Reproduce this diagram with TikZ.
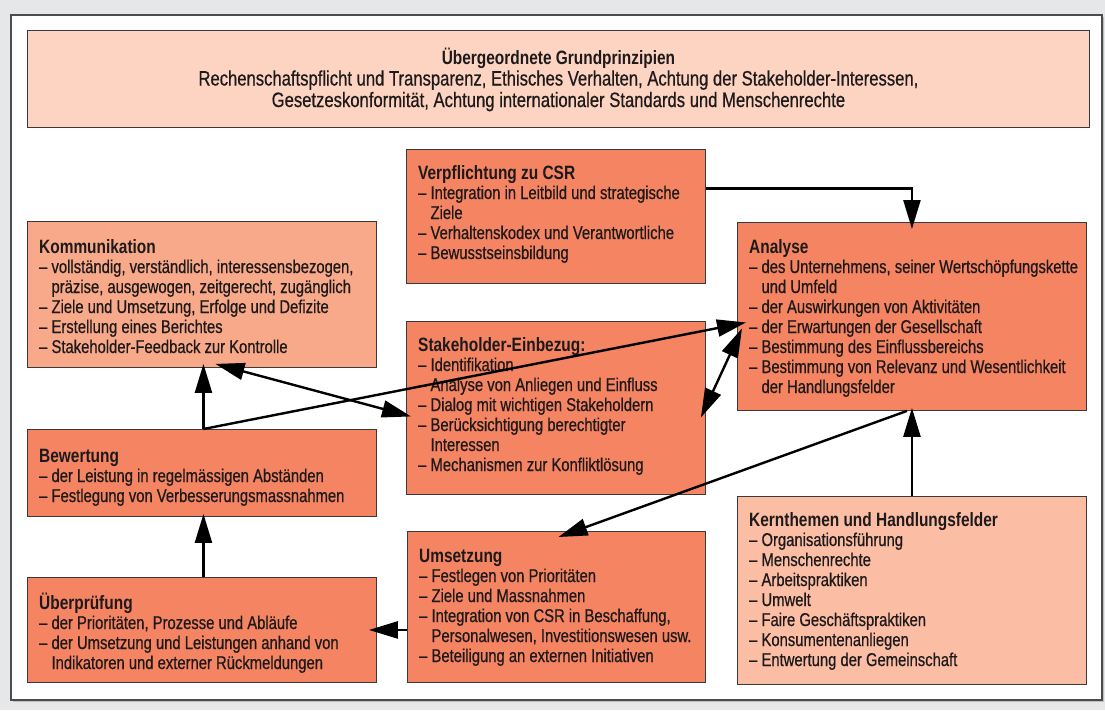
\documentclass[tikz,border=0pt]{standalone}
\usepackage{fontspec}
\setmainfont{Liberation Sans}[FakeStretch=0.8, UprightFeatures={FakeBold=0.6}]
\usetikzlibrary{arrows.meta}
\definecolor{bgc}{HTML}{E6E7E8}
\definecolor{mainc}{HTML}{F48462}
\definecolor{kommc}{HTML}{F8A98A}
\definecolor{kernc}{HTML}{FBBDA4}
\definecolor{topc}{HTML}{FDD3C1}
\definecolor{txtc}{HTML}{1E1A1B}
\definecolor{linec}{HTML}{3A3A3A}
\newcommand\bxt[2]{\vtop{\fontsize{18.5}{20}\selectfont\hbox{\fontsize{19.3}{20}\selectfont\bfseries #1}#2}}
\newcommand\li[1]{\hbox{–\ #1}}
\newcommand\lc[1]{\hbox{\hphantom{–\ }#1}}
\newcommand\cl[1]{\hbox to 1000pt{\hfil #1\hfil}}
\begin{document}
\begin{tikzpicture}[x=1pt,y=-1pt,
  box/.style={draw=linec, line width=0.9pt, inner sep=0pt, anchor=north west},
  txt/.style={inner sep=0pt, anchor=base west, text=txtc},
  arr/.style={line width=2.4pt, draw=black, -{Triangle[length=29pt,width=17pt]}},
  darr/.style={line width=2.4pt, draw=black, {Triangle[length=29pt,width=17pt]}-{Triangle[length=29pt,width=17pt]}}]
\useasboundingbox (0,0) rectangle (1105,710);
\fill[bgc] (0,0) rectangle (1105,710);
\fill[black!25] (13,17) rectangle (1104,702);
\draw[fill=white, draw=black!70, line width=1.2pt] (11,15) rectangle (1102,700);

% boxes
\node[box, fill=topc, minimum width=1062pt, minimum height=97pt] (top) at (27,30) {};
\node[box, fill=kommc, minimum width=349pt, minimum height=146pt] (komm) at (27,221) {};
\node[box, fill=mainc, minimum width=299pt, minimum height=134pt] (verp) at (406,149) {};
\node[box, fill=mainc, minimum width=299pt, minimum height=173pt] (stak) at (406,321) {};
\node[box, fill=mainc, minimum width=349pt, minimum height=188pt] (ana) at (737,222) {};
\node[box, fill=mainc, minimum width=349pt, minimum height=87pt] (bew) at (27,429) {};
\node[box, fill=mainc, minimum width=349pt, minimum height=105pt] (ueb) at (27,577) {};
\node[box, fill=mainc, minimum width=298pt, minimum height=151pt] (ums) at (407,531) {};
\node[box, fill=kernc, minimum width=349pt, minimum height=188pt] (kern) at (737,496) {};

% texts
\node[inner sep=0pt, anchor=base, text=txtc] (toptxt) at ([yshift=-34pt]top.north) {\vtop{\fontsize{20.8}{21.5}\selectfont
  \cl{\fontsize{19.3}{21.5}\selectfont\bfseries Übergeordnete Grundprinzipien}
  \cl{Rechenschaftspflicht und Transparenz, Ethisches Verhalten, Achtung der Stakeholder-Interessen,}
  \cl{Gesetzeskonformität, Achtung internationaler Standards und Menschenrechte}}};

\node[txt] (kommtxt) at ([shift={(12pt,-32pt)}]komm.north west) {\bxt{Kommunikation}{%
  \li{vollständig, verständlich, interessensbezogen,}
  \lc{präzise, ausgewogen, zeitgerecht, zugänglich}
  \li{Ziele und Umsetzung, Erfolge und Defizite}
  \li{Erstellung eines Berichtes}
  \li{Stakeholder-Feedback zur Kontrolle}}};

\node[txt] (verptxt) at ([shift={(12pt,-30pt)}]verp.north west) {\bxt{Verpflichtung zu CSR}{%
  \li{Integration in Leitbild und strategische}
  \lc{Ziele}
  \li{Verhaltenskodex und Verantwortliche}
  \li{Bewusstseinsbildung}}};

\node[txt] (staktxt) at ([shift={(12pt,-30pt)}]stak.north west) {\bxt{Stakeholder-Einbezug:}{%
  \li{Identifikation}
  \li{Analyse von Anliegen und Einfluss}
  \li{Dialog mit wichtigen Stakeholdern}
  \li{Berücksichtigung berechtigter}
  \lc{Interessen}
  \li{Mechanismen zur Konfliktlösung}}};

\node[txt] (anatxt) at ([shift={(12pt,-31pt)}]ana.north west) {\bxt{Analyse}{%
  \li{des Unternehmens, seiner Wertschöpfungskette}
  \lc{und Umfeld}
  \li{der Auswirkungen von Aktivitäten}
  \li{der Erwartungen der Gesellschaft}
  \li{Bestimmung des Einflussbereichs}
  \li{Bestimmung von Relevanz und Wesentlichkeit}
  \lc{der Handlungsfelder}}};

\node[txt] (bewtxt) at ([shift={(12pt,-33pt)}]bew.north west) {\bxt{Bewertung}{%
  \li{der Leistung in regelmässigen Abständen}
  \li{Festlegung von Verbesserungsmassnahmen}}};

\node[txt] (uebtxt) at ([shift={(12pt,-32pt)}]ueb.north west) {\bxt{Überprüfung}{%
  \li{der Prioritäten, Prozesse und Abläufe}
  \li{der Umsetzung und Leistungen anhand von}
  \lc{Indikatoren und externer Rückmeldungen}}};

\node[txt] (umstxt) at ([shift={(12pt,-31pt)}]ums.north west) {\bxt{Umsetzung}{%
  \li{Festlegen von Prioritäten}
  \li{Ziele und Massnahmen}
  \li{Integration von CSR in Beschaffung,}
  \lc{Personalwesen, Investitionswesen usw.}
  \li{Beteiligung an externen Initiativen}}};

\node[txt] (kerntxt) at ([shift={(12pt,-30pt)}]kern.north west) {\bxt{Kernthemen und Handlungsfelder}{%
  \li{Organisationsführung}
  \li{Menschenrechte}
  \li{Arbeitspraktiken}
  \li{Umwelt}
  \li{Faire Geschäftspraktiken}
  \li{Konsumentenanliegen}
  \li{Entwertung der Gemeinschaft}}};

% connectors
\draw[arr] ([yshift=28pt]verp.east) -| ([yshift=-7pt]ana.north);
\draw[arr] ([xshift=1.5pt]bew.north) -- ([shift={(1.5pt,4pt)}]komm.south);
\draw[arr] ([xshift=1.5pt]bew.north) -- ([shift={(9pt,-6pt)}]ana.west);
\draw[darr] ([shift={(13.5pt,4pt)}]komm.south) -- ([shift={(5pt,-8.5pt)}]stak.west);
\draw[darr] ([shift={(-5pt,-9.5pt)}]stak.east) -- ([shift={(5pt,-12pt)}]ana.west);
\draw[arr] (kern.north) -- ([yshift=3pt]ana.south);
\draw[arr] ([xshift=-5pt]ana.south) -- ([shift={(2pt,-6pt)}]ums.north);
\draw[arr] (ums.west |- ueb.east) -- ([xshift=-8pt]ueb.east);
\draw[arr] ([xshift=1.5pt]ueb.north) -- ([shift={(1.5pt,3pt)}]bew.south);
\end{tikzpicture}
\end{document}
